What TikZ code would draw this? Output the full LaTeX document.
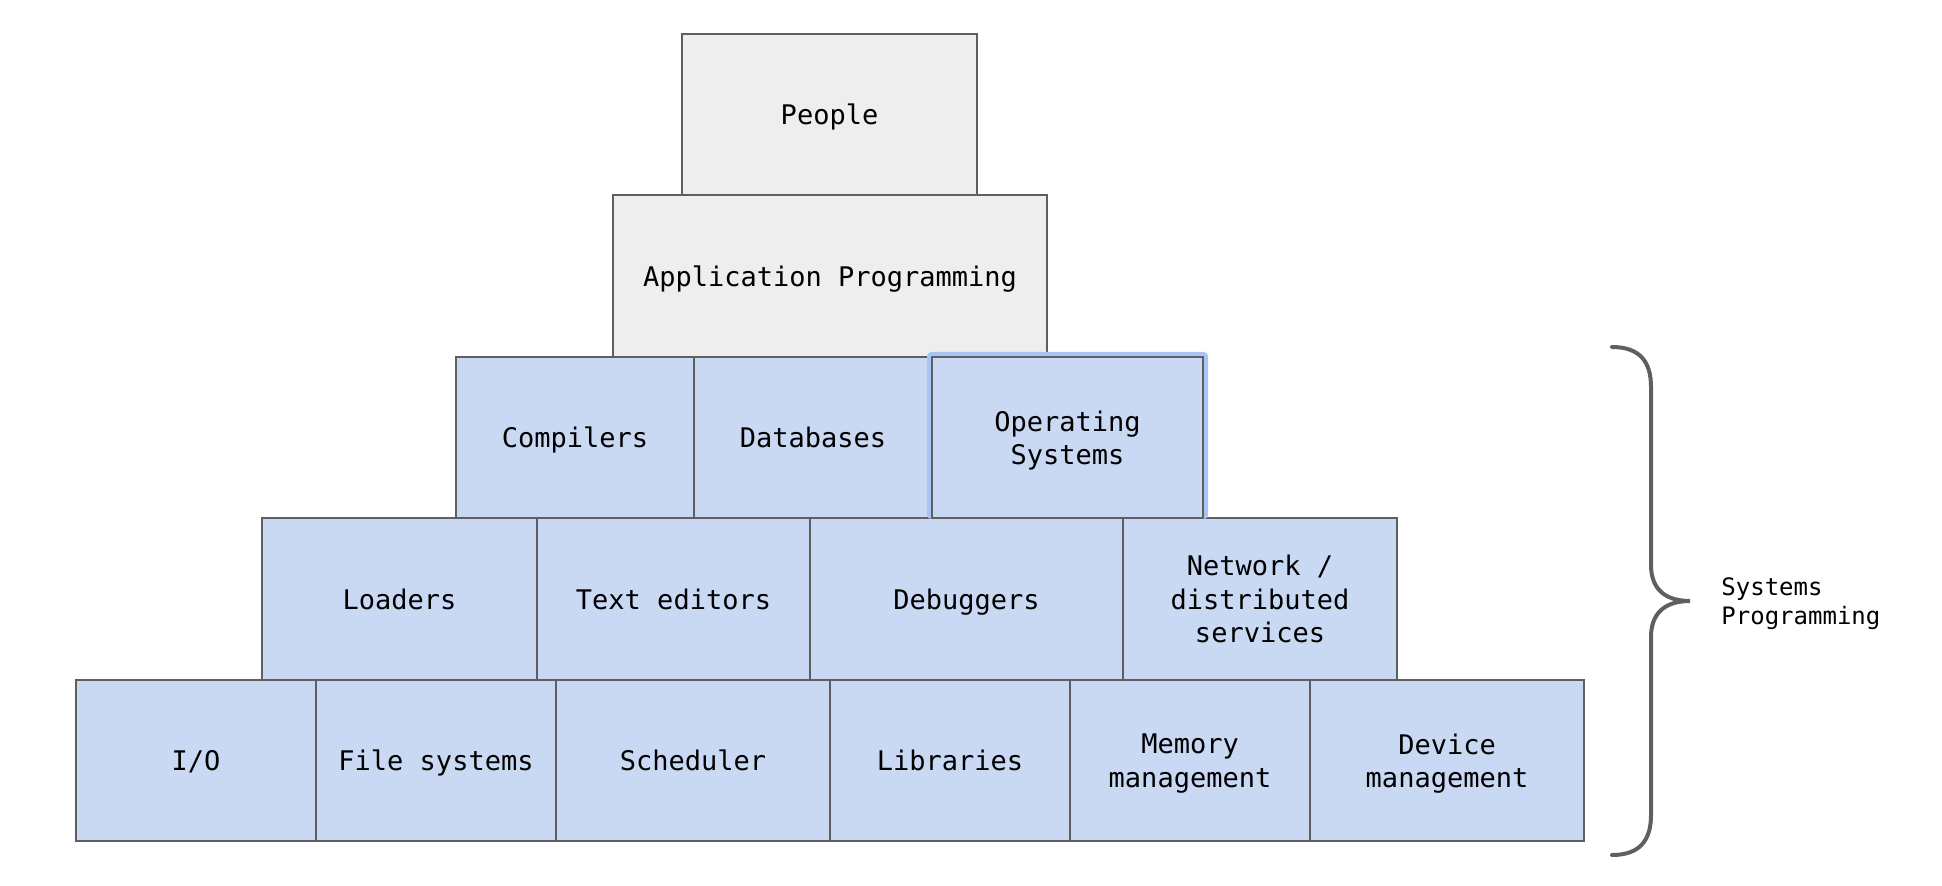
\documentclass[tikz,border=0pt]{standalone}
\usepackage{fontspec}
\setmonofont{DejaVu Sans Mono}

\definecolor{graybox}{HTML}{EEEEEE}
\definecolor{bluebox}{HTML}{C9D8F3}
\definecolor{edgegray}{HTML}{5F5F5F}
\definecolor{hilite}{HTML}{A9C4F2}

\tikzset{
  blk/.style={draw=edgegray, line width=1pt, fill=bluebox, inner sep=0pt,
    text depth=0pt, align=center, font=\ttfamily\fontsize{13.5}{16.7}\selectfont},
  topblk/.style={blk, fill=graybox},
}

\begin{document}
\begin{tikzpicture}[x=0.5pt, y=-0.5pt]
    \useasboundingbox (0,0) rectangle (1942,886);
    % top two layers
    \node[topblk, minimum width=147.5pt, minimum height=80.5pt] (people) at (829.5,114.5) {People};
    \node[topblk, minimum width=217pt, minimum height=81pt] (app) at (830,276) {Application Programming};
    % systems layers
    \node[blk, minimum width=119pt, minimum height=80.5pt] (comp) at (575,437.5) {Compilers};
    \node[blk, minimum width=119pt, minimum height=80.5pt] (db) at (813,437.5) {Databases};
    \node[blk, minimum width=137.5pt, minimum height=81pt] (load) at (399.5,599) {Loaders};
    \node[blk, minimum width=136.5pt, minimum height=81pt] (edit) at (673.5,599) {Text editors};
    \node[blk, minimum width=156.5pt, minimum height=81pt] (dbg) at (966.5,599) {Debuggers};
    \node[blk, minimum width=137pt, minimum height=81pt] (net) at (1260,599) {Network /\\distributed\\services};
    \node[blk, minimum width=120pt, minimum height=80.5pt] (io) at (196,760.5) {I/O};
    \node[blk, minimum width=120pt, minimum height=80.5pt] (fs) at (436,760.5) {File systems};
    \node[blk, minimum width=137pt, minimum height=80.5pt] (sched) at (693,760.5) {Scheduler};
    \node[blk, minimum width=120pt, minimum height=80.5pt] (lib) at (950,760.5) {Libraries};
    \node[blk, minimum width=120pt, minimum height=80.5pt] (mem) at (1190,760.5) {Memory\\management};
    \node[blk, minimum width=137pt, minimum height=80.5pt] (dev) at (1447,760.5) {Device\\management};
    % selection glow round the OS box, then the box itself
    \fill[hilite, rounded corners=2pt] (927,352) rectangle (1208,519);
    \node[blk, minimum width=135.5pt, minimum height=80.5pt] (os) at (1067.5,437.5) {Operating\\Systems};
    % brace
    \draw[edgegray, line width=2pt, line cap=round]
        (1612,347) .. controls (1640,347) and (1651,362) .. (1651,387)
        -- (1651,565) .. controls (1651,588) and (1664,601) .. (1690,601)
        .. controls (1664,601) and (1651,614) .. (1651,637)
        -- (1651,815) .. controls (1651,840) and (1640,855) .. (1612,855);
    \node[anchor=west, inner sep=0pt, align=left,
        font=\ttfamily\fontsize{12}{14.5}\selectfont] (sysprog) at (1721,604) {Systems\\Programming};
\end{tikzpicture}
\end{document}
